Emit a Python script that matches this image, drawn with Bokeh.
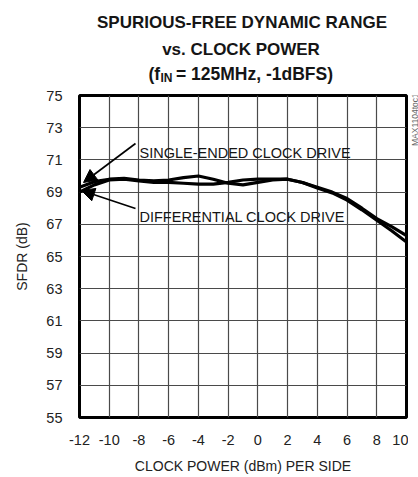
from bokeh.plotting import figure
from bokeh.layouts import column, row
from bokeh.models import Arrow, NormalHead, FixedTicker, Range1d
from bokeh.core.properties import value
from bokeh.embed import file_html
from bokeh.resources import INLINE
import math

# ---- data ----
clock_power = [-12, -11, -10, -9, -8, -7, -6, -5, -4, -3, -2, -1, 0, 1, 2, 3, 4, 5, 6, 7, 8, 9, 10]
sfdr_single = [69.3, 69.65, 69.8, 69.85, 69.75, 69.7, 69.75, 69.9, 70.0, 69.8, 69.55, 69.45, 69.6,
               69.75, 69.8, 69.6, 69.3, 69.0, 68.6, 68.0, 67.35, 66.85, 66.3]
sfdr_diff = [69.0, 69.45, 69.75, 69.8, 69.7, 69.6, 69.6, 69.55, 69.5, 69.5, 69.6, 69.75, 69.8,
             69.8, 69.8, 69.6, 69.25, 68.95, 68.5, 67.9, 67.25, 66.6, 65.9]
x_ticks = [-12, -10, -8, -6, -4, -2, 0, 2, 4, 6, 8, 10]
y_ticks = [55, 57, 59, 61, 63, 65, 67, 69, 71, 73, 75]
title_lines = ["SPURIOUS-FREE DYNAMIC RANGE", "vs. CLOCK POWER"]
title_line3 = ["(f", "IN", "= 125MHz, -1dBFS)"]
curve_labels = ["SINGLE-ENDED CLOCK DRIVE", "DIFFERENTIAL CLOCK DRIVE"]

FONT = "Liberation Sans"
INK = "#151515"

X0, X1, Y0, Y1 = -12, 10, 55, 75
TITLE_H = 88
MAIN_W, MAIN_H = 408, 389
TAG_W = 10
# frame edges in page pixels
FL, FR, FT, FB = 79, 406, 95, 417


def dx(px):
    return X0 + (px - FL) * (X1 - X0) / (FR - FL)


def dy(py):
    return Y1 - (py - FT) * (Y1 - Y0) / (FB - FT)


def blank(w, h, flip=True):
    f = figure(width=w, height=h, output_backend="svg", toolbar_location=None,
               x_range=Range1d(0, w), y_range=Range1d(h, 0) if flip else Range1d(0, h),
               x_axis_location=None, y_axis_location=None,
               min_border=0, min_border_left=0, min_border_right=0,
               min_border_top=0, min_border_bottom=0)
    f.outline_line_color = None
    f.xgrid.visible = False
    f.ygrid.visible = False
    f.background_fill_color = "white"
    f.border_fill_color = "white"
    return f


# ---- title panel ----
tf = blank(418, TITLE_H)
tf.text(x=[241.5, 240.5], y=[22, 49], text=title_lines, text_font=value(FONT),
        text_font_size=value("17px"), text_font_style="bold", text_align="center",
        text_baseline="alphabetic", text_color=INK)
tf.text(x=[148, 175.5], y=[73, 73], text=[title_line3[0], title_line3[2]], text_font=value(FONT),
        text_font_size=value("17.5px"), text_font_style="bold", text_align="left",
        text_baseline="alphabetic", text_color=INK)
tf.text(x=[160], y=[77], text=[title_line3[1]], text_font=value(FONT),
        text_font_size=value("12px"), text_font_style="bold", text_align="left",
        text_baseline="alphabetic", text_color=INK)

# ---- main chart ----
p = figure(width=MAIN_W, height=MAIN_H, output_backend="svg", toolbar_location=None,
           x_range=Range1d(X0, X1), y_range=Range1d(Y0, Y1),
           min_border_left=FL, min_border_right=MAIN_W - FR, min_border_top=FT - TITLE_H,
           min_border_bottom=TITLE_H + MAIN_H - FB)
p.outline_line_color = "black"
p.outline_line_width = 3
p.background_fill_color = "white"
p.border_fill_color = "white"

for ax in (p.xaxis[0], p.yaxis[0]):
    ax.axis_line_color = None
    ax.major_tick_line_color = None
    ax.minor_tick_line_color = None
    ax.major_tick_out = 0
    ax.major_tick_in = 0
    ax.minor_tick_out = 0
    ax.minor_tick_in = 0
    ax.major_label_text_font = FONT
    ax.major_label_text_font_size = "14.5px"
    ax.major_label_text_color = "#222222"
    ax.axis_label_text_font = FONT
    ax.axis_label_text_font_style = "normal"
    ax.axis_label_text_font_size = "14px"
    ax.axis_label_text_color = "#222222"

p.xaxis[0].ticker = FixedTicker(ticks=x_ticks)
p.yaxis[0].ticker = FixedTicker(ticks=y_ticks)
p.xaxis[0].major_label_overrides = {t: str(t) for t in x_ticks}
p.yaxis[0].major_label_overrides = {t: str(t) for t in y_ticks}
p.xaxis[0].major_label_standoff = 17
p.yaxis[0].major_label_standoff = 17
p.xaxis[0].axis_label = "CLOCK POWER (dBm) PER SIDE"
p.xaxis[0].axis_label_standoff = 10
p.yaxis[0].axis_label = "SFDR (dB)"
p.yaxis[0].axis_label_standoff = 13

p.xgrid[0].ticker = FixedTicker(ticks=x_ticks)
p.ygrid[0].ticker = FixedTicker(ticks=y_ticks)
for g in (p.xgrid[0], p.ygrid[0]):
    g.grid_line_color = "#4a4a4a"
    g.grid_line_width = 1.2

p.line(clock_power, sfdr_single, line_color="black", line_width=3.2, line_join="round")
p.line(clock_power, sfdr_diff, line_color="black", line_width=3.2, line_join="round")

# curve labels and arrows
p.text(x=[dx(139)], y=[dy(152)], text=[curve_labels[0]],
       text_font=value(FONT), text_font_size=value("14.5px"), text_color=INK,
       text_align="left", text_baseline="alphabetic")
p.text(x=[dx(139)], y=[dy(216)], text=[curve_labels[1]],
       text_font=value(FONT), text_font_size=value("14.5px"), text_color=INK,
       text_align="left", text_baseline="alphabetic")
p.add_layout(Arrow(x_start=dx(135), y_start=dy(143), x_end=dx(83), y_end=dy(182),
                   line_color="black", line_width=1.6,
                   end=NormalHead(size=13, fill_color="black", line_color="black")))
p.add_layout(Arrow(x_start=dx(135), y_start=dy(208), x_end=dx(81), y_end=dy(190),
                   line_color="black", line_width=1.6,
                   end=NormalHead(size=13, fill_color="black", line_color="black")))

# ---- part-number tag at the right ----
tg = blank(TAG_W, MAIN_H, flip=False)
tg.text(x=[6], y=[MAIN_H - (149 - TITLE_H)], text=["MAX1104toc15"], text_font=value(FONT),
        text_font_size=value("8.5px"), text_align="left", text_baseline="alphabetic",
        angle=math.pi / 2, text_color="#666666")

layout = column(tf, row(p, tg, spacing=0), spacing=0)
open("out.html", "w").write(file_html(layout, INLINE))
